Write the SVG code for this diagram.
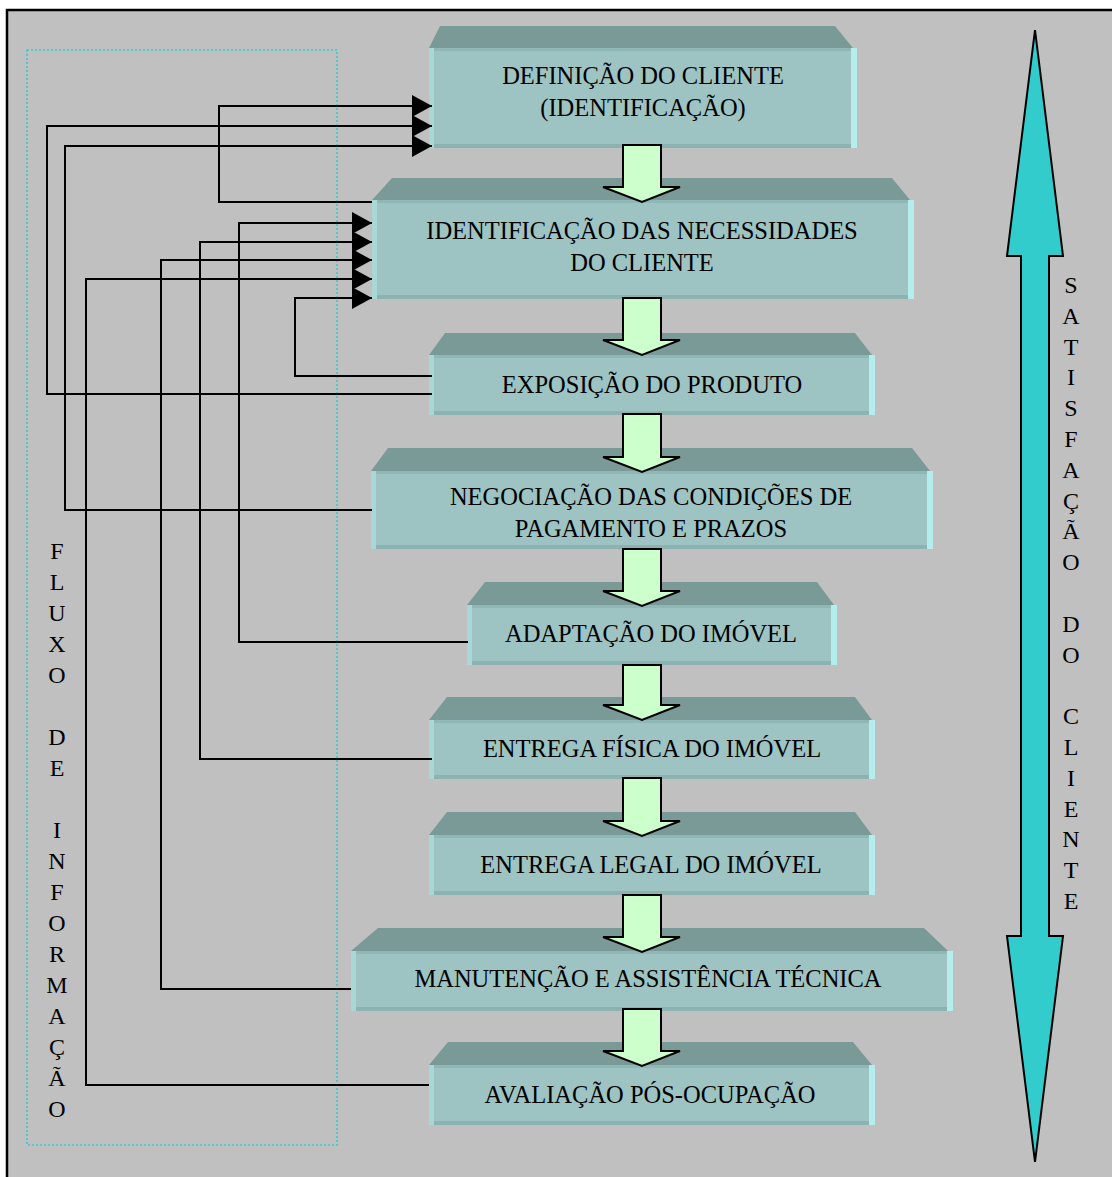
<svg xmlns="http://www.w3.org/2000/svg" width="1112" height="1177" viewBox="0 0 1112 1177">
<style>
.t{font-family:"Liberation Serif","Times New Roman",serif;font-size:24.5px;fill:#000;text-anchor:middle}
.v{font-family:"Liberation Serif","Times New Roman",serif;font-size:24px;fill:#000;text-anchor:middle}
.top{fill:#7A9A98}
.face{fill:#9DC3C3}
.ls{fill:#A9D7D6}
.rs{fill:#B5EDEC}
.tb{fill:#8FB7B6}
.bb{fill:#8CB2B1}
.conn{fill:none;stroke:#000;stroke-width:2}
.flow{fill:#CCFFCC;stroke:#000;stroke-width:2;stroke-linejoin:miter}
</style>
<defs>
<marker id="ah" viewBox="0 0 20 22" refX="20" refY="11" markerWidth="20" markerHeight="22" markerUnits="userSpaceOnUse" orient="auto">
<path d="M0,0 L20,11 L0,22 Z" fill="#000"/>
</marker>
</defs>
<rect x="0" y="0" width="1112" height="1177" fill="#FFFFFF"/>
<rect id="frame" x="7" y="10" width="1115" height="1185" fill="#C0C0C0" stroke="#000" stroke-width="2.5"/>
<rect id="info-zone" x="27" y="50" width="310" height="1095" fill="none" stroke="#33CCCC" stroke-width="1.6" stroke-dasharray="2 2"/>

<g id="box1">
<polygon class="top" points="440,26 835,26 853,48 429,48"/>
<rect class="face" x="429" y="48" width="428" height="100"/>
<rect class="tb" x="429" y="48" width="428" height="3"/>
<rect class="bb" x="429" y="144" width="428" height="4"/>
<rect class="ls" x="429" y="48" width="5" height="100"/>
<rect class="rs" x="851" y="48" width="6" height="100"/>
<text class="t" x="643" y="84">DEFINIÇÃO DO CLIENTE</text>
<text class="t" x="643" y="116">(IDENTIFICAÇÃO)</text>
</g>
<g id="box2">
<polygon class="top" points="392,178 892,178 910,200 372,200"/>
<rect class="face" x="372" y="200" width="542" height="99"/>
<rect class="tb" x="372" y="200" width="542" height="3"/>
<rect class="bb" x="372" y="295" width="542" height="4"/>
<rect class="ls" x="372" y="200" width="5" height="99"/>
<rect class="rs" x="908" y="200" width="6" height="99"/>
<text class="t" x="642" y="239">IDENTIFICAÇÃO DAS NECESSIDADES</text>
<text class="t" x="642" y="271">DO CLIENTE</text>
</g>
<g id="box3">
<polygon class="top" points="445,333 855,333 872,355 429,355"/>
<rect class="face" x="429" y="355" width="446" height="60"/>
<rect class="tb" x="429" y="355" width="446" height="3"/>
<rect class="bb" x="429" y="411" width="446" height="4"/>
<rect class="ls" x="429" y="355" width="5" height="60"/>
<rect class="rs" x="869" y="355" width="6" height="60"/>
<text class="t" x="652" y="393">EXPOSIÇÃO DO PRODUTO</text>
</g>
<g id="box4">
<polygon class="top" points="388,448 912,448 930,471 371,471"/>
<rect class="face" x="371" y="471" width="562" height="78"/>
<rect class="tb" x="371" y="471" width="562" height="3"/>
<rect class="bb" x="371" y="545" width="562" height="4"/>
<rect class="ls" x="371" y="471" width="5" height="78"/>
<rect class="rs" x="927" y="471" width="6" height="78"/>
<text class="t" x="651" y="505">NEGOCIAÇÃO DAS CONDIÇÕES DE</text>
<text class="t" x="651" y="537">PAGAMENTO E PRAZOS</text>
</g>
<g id="box5">
<polygon class="top" points="485,582 817,582 834,605 467,605"/>
<rect class="face" x="467" y="605" width="370" height="60"/>
<rect class="tb" x="467" y="605" width="370" height="3"/>
<rect class="bb" x="467" y="661" width="370" height="4"/>
<rect class="ls" x="467" y="605" width="5" height="60"/>
<rect class="rs" x="831" y="605" width="6" height="60"/>
<text class="t" x="651" y="642">ADAPTAÇÃO DO IMÓVEL</text>
</g>
<g id="box6">
<polygon class="top" points="447,697 855,697 872,720 429,720"/>
<rect class="face" x="429" y="720" width="446" height="59"/>
<rect class="tb" x="429" y="720" width="446" height="3"/>
<rect class="bb" x="429" y="775" width="446" height="4"/>
<rect class="ls" x="429" y="720" width="5" height="59"/>
<rect class="rs" x="869" y="720" width="6" height="59"/>
<text class="t" x="652" y="757">ENTREGA FÍSICA DO IMÓVEL</text>
</g>
<g id="box7">
<polygon class="top" points="447,812 855,812 872,835 429,835"/>
<rect class="face" x="429" y="835" width="446" height="60"/>
<rect class="tb" x="429" y="835" width="446" height="3"/>
<rect class="bb" x="429" y="891" width="446" height="4"/>
<rect class="ls" x="429" y="835" width="5" height="60"/>
<rect class="rs" x="869" y="835" width="6" height="60"/>
<text class="t" x="651" y="873">ENTREGA LEGAL DO IMÓVEL</text>
</g>
<g id="box8">
<polygon class="top" points="378,928 924,928 948,951 351,951"/>
<rect class="face" x="351" y="951" width="602" height="60"/>
<rect class="tb" x="351" y="951" width="602" height="3"/>
<rect class="bb" x="351" y="1007" width="602" height="4"/>
<rect class="ls" x="351" y="951" width="5" height="60"/>
<rect class="rs" x="947" y="951" width="6" height="60"/>
<text class="t" x="648" y="987">MANUTENÇÃO E ASSISTÊNCIA TÉCNICA</text>
</g>
<g id="box9">
<polygon class="top" points="448,1042 853,1042 872,1065 429,1065"/>
<rect class="face" x="429" y="1065" width="446" height="60"/>
<rect class="tb" x="429" y="1065" width="446" height="3"/>
<rect class="bb" x="429" y="1121" width="446" height="4"/>
<rect class="ls" x="429" y="1065" width="5" height="60"/>
<rect class="rs" x="869" y="1065" width="6" height="60"/>
<text class="t" x="650" y="1103">AVALIAÇÃO PÓS-OCUPAÇÃO</text>
</g>

<g id="flow-arrows">
<path class="flow" d="M623,145 L661,145 L661,187 L680,187 L642,202 L603,187 L623,187 Z"/>
<path class="flow" d="M623,298 L661,298 L661,340 L680,340 L642,355 L603,340 L623,340 Z"/>
<path class="flow" d="M623,414 L661,414 L661,457 L680,457 L642,472 L603,457 L623,457 Z"/>
<path class="flow" d="M623,549 L661,549 L661,591 L680,591 L642,606 L603,591 L623,591 Z"/>
<path class="flow" d="M623,665 L661,665 L661,705 L680,705 L642,720 L603,705 L623,705 Z"/>
<path class="flow" d="M623,778 L661,778 L661,821 L680,821 L642,836 L603,821 L623,821 Z"/>
<path class="flow" d="M623,895 L661,895 L661,937 L680,937 L642,952 L603,937 L623,937 Z"/>
<path class="flow" d="M623,1009 L661,1009 L661,1051 L680,1051 L642,1066 L603,1051 L623,1051 Z"/>
</g>

<g id="connectors">
<polyline class="conn" points="372,202 219,202 219,106 432,106" marker-end="url(#ah)"/>
<polyline class="conn" points="432,394 47,394 47,126 432,126" marker-end="url(#ah)"/>
<polyline class="conn" points="372,510 65,510 65,146 432,146" marker-end="url(#ah)"/>
<polyline class="conn" points="468,642 239,642 239,223 372,223" marker-end="url(#ah)"/>
<polyline class="conn" points="432,759 200,759 200,242 372,242" marker-end="url(#ah)"/>
<polyline class="conn" points="351,989 161,989 161,260 372,260" marker-end="url(#ah)"/>
<polyline class="conn" points="429,1085 86,1085 86,279 372,279" marker-end="url(#ah)"/>
<polyline class="conn" points="432,376 295,376 295,298 372,298" marker-end="url(#ah)"/>
</g>

<g id="satisfaction-arrow">
<path d="M1035,30 L1063,256 L1049,256 L1049,936 L1063,936 L1035,1162 L1007,936 L1021,936 L1021,256 L1007,256 Z" fill="#33CCCC" stroke="#000" stroke-width="2" stroke-linejoin="miter"/>
</g>

<g id="label-satisfacao">
<text class="v" x="1071" y="293">S</text>
<text class="v" x="1071" y="324">A</text>
<text class="v" x="1071" y="355">T</text>
<text class="v" x="1071" y="385">I</text>
<text class="v" x="1071" y="416">S</text>
<text class="v" x="1071" y="447">F</text>
<text class="v" x="1071" y="478">A</text>
<text class="v" x="1071" y="509">Ç</text>
<text class="v" x="1071" y="539">Ã</text>
<text class="v" x="1071" y="570">O</text>
<text class="v" x="1071" y="632">D</text>
<text class="v" x="1071" y="663">O</text>
<text class="v" x="1071" y="724">C</text>
<text class="v" x="1071" y="755">L</text>
<text class="v" x="1071" y="786">I</text>
<text class="v" x="1071" y="817">E</text>
<text class="v" x="1071" y="847">N</text>
<text class="v" x="1071" y="878">T</text>
<text class="v" x="1071" y="909">E</text>
</g>

<g id="label-fluxo">
<text class="v" x="57" y="559">F</text>
<text class="v" x="57" y="590">L</text>
<text class="v" x="57" y="621">U</text>
<text class="v" x="57" y="652">X</text>
<text class="v" x="57" y="683">O</text>
<text class="v" x="57" y="745">D</text>
<text class="v" x="57" y="776">E</text>
<text class="v" x="57" y="838">I</text>
<text class="v" x="57" y="869">N</text>
<text class="v" x="57" y="900">F</text>
<text class="v" x="57" y="931">O</text>
<text class="v" x="57" y="962">R</text>
<text class="v" x="57" y="993">M</text>
<text class="v" x="57" y="1024">A</text>
<text class="v" x="57" y="1055">Ç</text>
<text class="v" x="57" y="1086">Ã</text>
<text class="v" x="57" y="1117">O</text>
</g>
</svg>
